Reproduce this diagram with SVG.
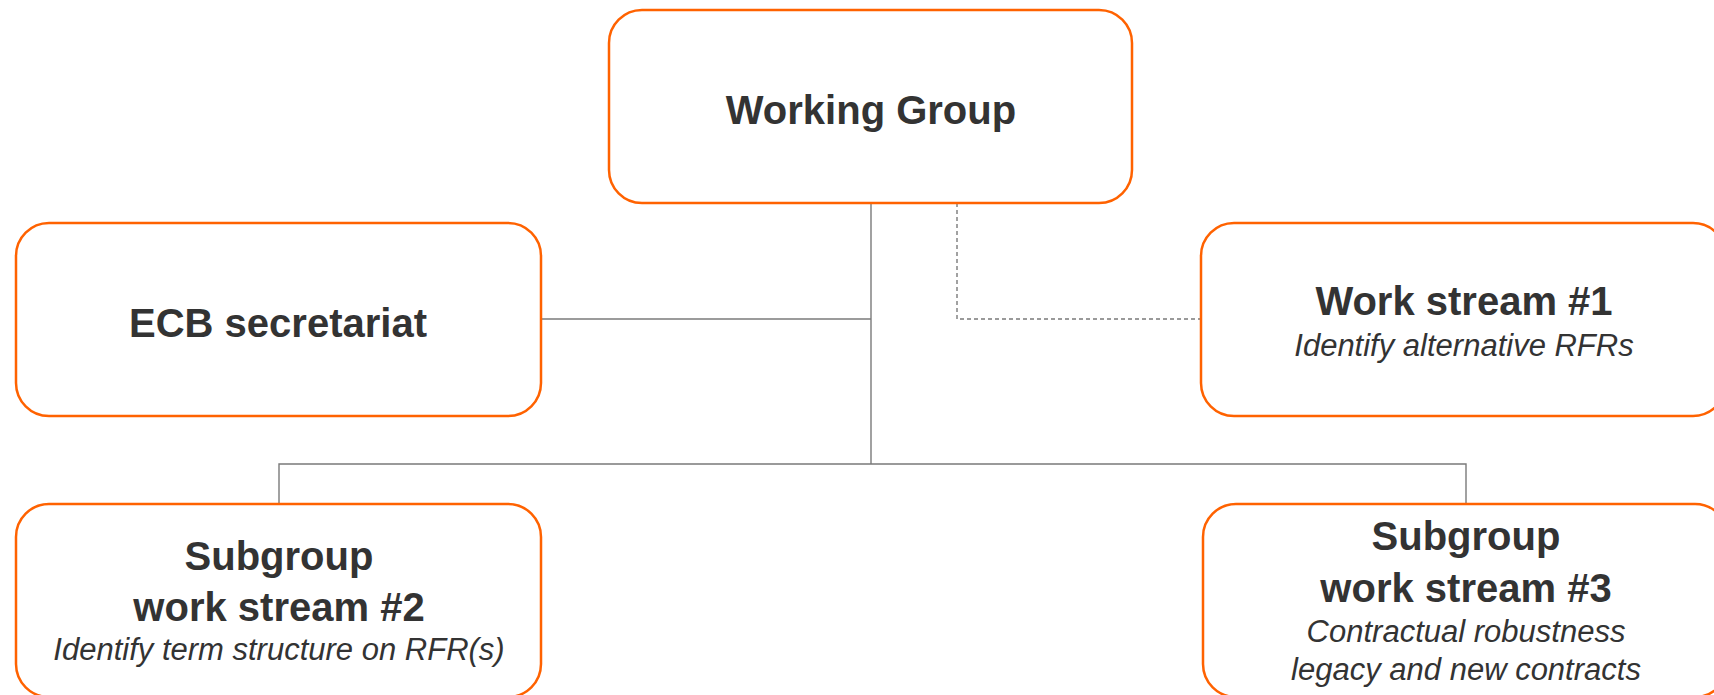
<svg xmlns="http://www.w3.org/2000/svg" width="1714" height="695" viewBox="0 0 1714 695">
  <style>
    .box { fill: #ffffff; stroke: #ff6200; stroke-width: 2.5; }
    .title { font-family: "Liberation Sans", Arial, sans-serif; font-weight: bold; font-size: 40px; fill: #333333; text-anchor: middle; }
    .sub { font-family: "Liberation Sans", Arial, sans-serif; font-style: italic; font-size: 31px; fill: #333333; text-anchor: middle; }
    .link { fill: none; stroke: #7a7a7a; stroke-width: 1.4; }
    .dashed { stroke-dasharray: 4 3; }
  </style>
  <rect width="1714" height="695" fill="#ffffff"/>

  <!-- connectors -->
  <g id="connectors">
    <path class="link" d="M871 203 V464"/>
    <path class="link" d="M541 319 H871"/>
    <path class="link" d="M279 504 V464 H1466 V504"/>
    <path class="link dashed" d="M957 203 V319 H1201"/>
  </g>

  <g id="working-group">
    <rect class="box" x="609" y="10" width="523" height="193" rx="33"/>
    <text class="title" x="871" y="124">Working Group</text>
  </g>

  <g id="ecb-secretariat">
    <rect class="box" x="16" y="223" width="525" height="193" rx="33"/>
    <text class="title" x="278" y="337">ECB secretariat</text>
  </g>

  <g id="work-stream-1">
    <rect class="box" x="1201" y="223" width="525" height="193" rx="33"/>
    <text class="title" x="1464" y="315">Work stream #1</text>
    <text class="sub" x="1464" y="356">Identify alternative RFRs</text>
  </g>

  <g id="subgroup-2">
    <rect class="box" x="16" y="504" width="525" height="193" rx="33"/>
    <text class="title" x="279" y="570">Subgroup</text>
    <text class="title" x="279" y="621">work stream #2</text>
    <text class="sub" x="279" y="660">Identify term structure on RFR(s)</text>
  </g>

  <g id="subgroup-3">
    <rect class="box" x="1203" y="504" width="525" height="193" rx="33"/>
    <text class="title" x="1466" y="550">Subgroup</text>
    <text class="title" x="1466" y="602">work stream #3</text>
    <text class="sub" x="1466" y="642">Contractual robustness</text>
    <text class="sub" x="1466" y="680">legacy and new contracts</text>
  </g>
</svg>
